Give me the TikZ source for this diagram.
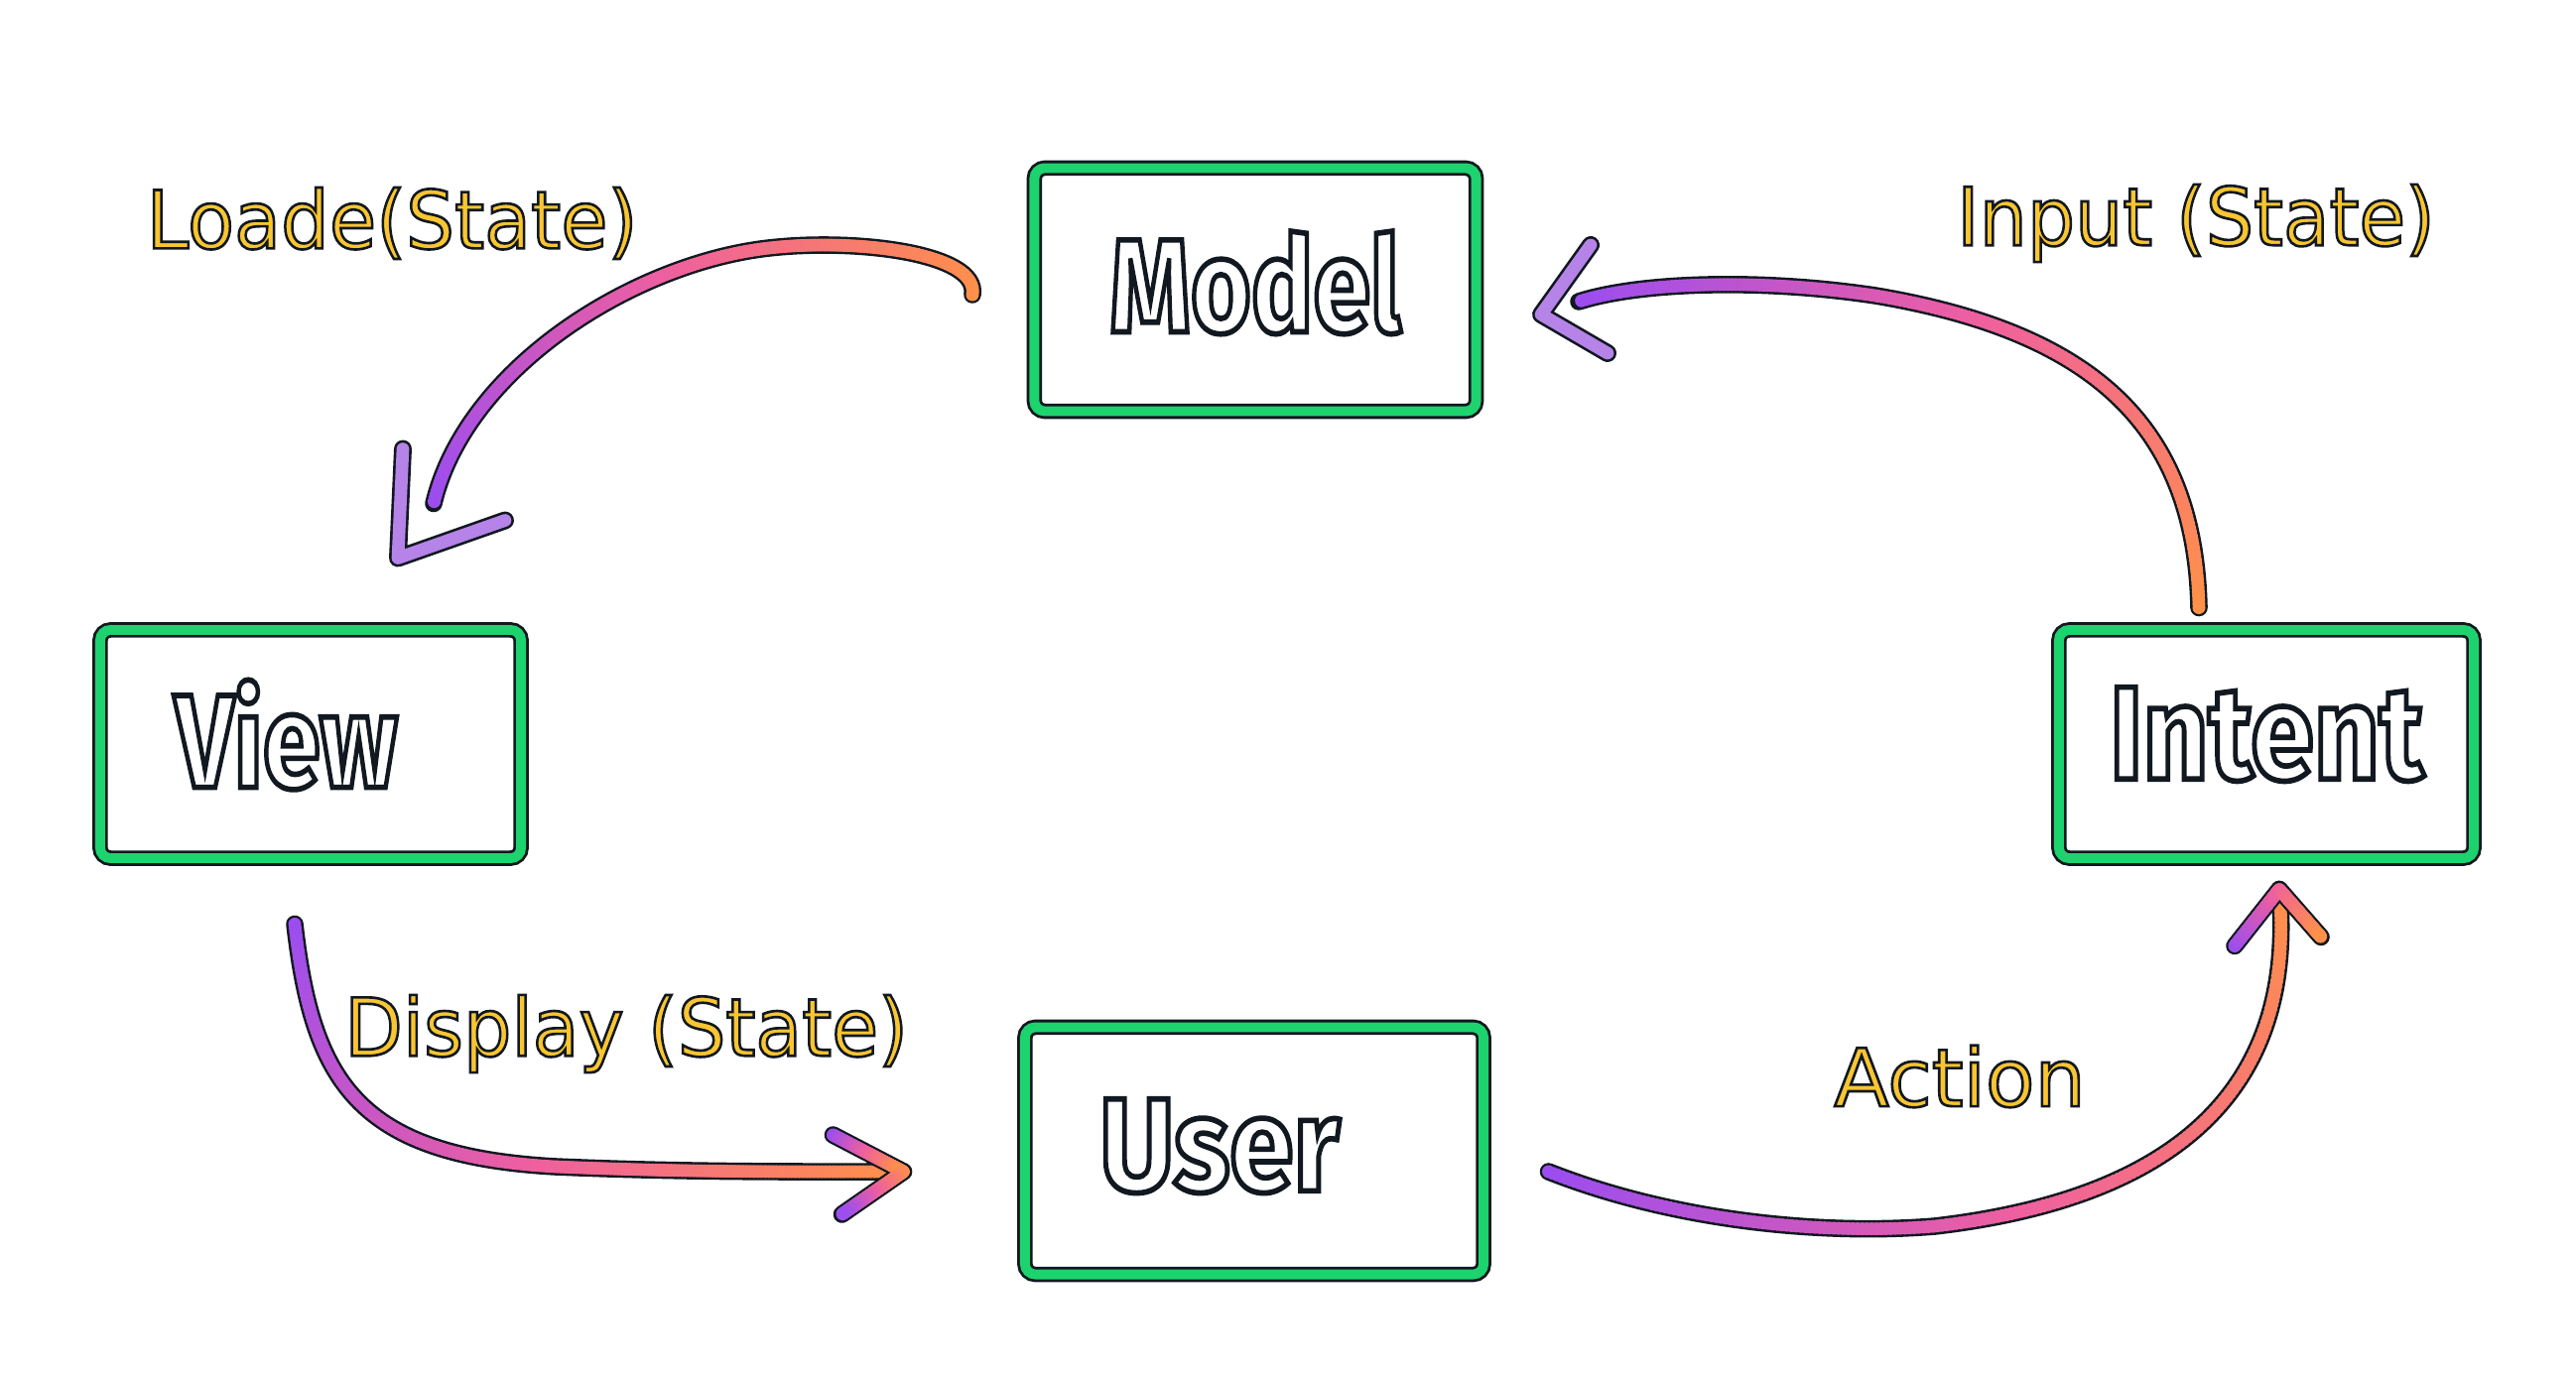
\documentclass[tikz,border=0pt]{standalone}
\usepackage{fontspec}
\usepackage{graphicx}
\usetikzlibrary{decorations.markings}

\setmainfont{DejaVu Sans}
\newfontfamily\boxfont{Fira Sans}

\definecolor{flowpurple}{RGB}{155,77,240}
\definecolor{flowpink}{RGB}{238,95,160}
\definecolor{floworange}{RGB}{255,145,72}
\definecolor{headlilac}{RGB}{182,131,232}
\definecolor{boxgreen}{RGB}{29,211,110}
\definecolor{labelgold}{RGB}{249,197,49}
\definecolor{outline}{RGB}{17,24,32}

% outlined text: fill in the current colour, stroke in dark
\newcommand\outlined[2]{\special{pdf:literal direct 2 Tr #1 w 0.067 0.094 0.125 RG}#2\special{pdf:literal direct 0 Tr}}
\newcommand\boxtext[4]{\raisebox{#2}{\scalebox{#3}[1]{\outlined{1.6}{\bfseries #4}}}\kern#1}
\newcommand\flowtext[2]{\scalebox{#1}[1]{\outlined{0.75}{#2}}}

% one dot of a trail: 0 purple->orange, 1 orange->purple, 2 purple->orange->purple
\newcommand\traildot[1]{%
  \pgfmathtruncatemacro\tp{(\pgfkeysvalueof{/pgf/decoration/mark info/sequence number}-1)/2}%
  \ifcase#1\or\pgfmathtruncatemacro\tp{100-\tp}\or\pgfmathtruncatemacro\tp{100-abs(2*\tp-100)}\fi
  \ifnum\tp<50 \pgfmathtruncatemacro\tq{2*\tp}\colorlet{dotc}{flowpink!\tq!flowpurple}%
  \else \pgfmathtruncatemacro\tq{2*\tp-100}\colorlet{dotc}{floworange!\tq!flowpink}\fi
  \fill[dotc] (0,0) circle (1.85pt);}

\tikzset{
    trail/.style={
        draw = outline, line width = 5pt, line cap = round, line join = round,
        postaction = {decorate, decoration = {markings,
            mark = between positions 0 and 1 step 0.005 with {\traildot{#1}}}}
    }
}

\begin{document}
\begin{tikzpicture}[
            x = 0.01cm,
            y = -0.01cm
        ]
        \tikzstyle{box}=[
            draw = outline,
            line width = 0.8pt,
            double = boxgreen,
            double distance = 2.8pt,
            fill = white,
            rounded corners = 3pt,
            inner sep = 0pt,
            text = white,
            font = \boxfont\fontsize{38}{40}\selectfont
        ]
        \tikzstyle{head}=[
            draw = outline,
            line width = 0.75pt,
            double = headlilac,
            double distance = 3.6pt,
            line cap = round,
            line join = round
        ]
        \tikzstyle{lbl}=[
            text = labelgold,
            inner sep = 0pt,
            font = \fontsize{23}{26}\selectfont
        ]
        \fill[white] (0,0) rectangle (2596,1388);
        \useasboundingbox (0,0) rectangle (2596,1388);

        \node[box, minimum width=4.45cm, minimum height=2.45cm] (model) at (1265,292) {\boxtext{0pt}{4.7pt}{0.78}{Model}};
        \node[box, minimum width=4.24cm, minimum height=2.30cm] (view) at (313,750) {\boxtext{14pt}{6pt}{0.78}{View}};
        \node[box, minimum width=4.62cm, minimum height=2.49cm] (user) at (1264,1160) {\boxtext{20pt}{3.4pt}{0.87}{User}};
        \node[box, minimum width=4.18cm, minimum height=2.30cm] (intent) at (2284,750) {\boxtext{0pt}{6.3pt}{0.86}{Intent}};

        \node[lbl] (loadlbl) at (395,225) {\flowtext{0.95}{Loade(State)}};
        \node[lbl] (inputlbl) at (2213,225) {\flowtext{0.94}{Input (State)}};
        \node[lbl] (displbl) at (631,1042) {\flowtext{0.945}{Display (State)}};
        \node[lbl] (actlbl) at (1975,1085) {\flowtext{1}{Action}};

        % Model -> View
        \coordinate (loadtip) at ([shift={(88,-71)}]view.north);
        \draw[trail=1] ([shift={(-61,5)}]model.west)
            .. controls (987,255) and (862,240) .. (775,250)
            .. controls (640,265) and (470,370) .. ([shift={(124,-126)}]view.north);
        \draw[head] ([shift={(93,-181)}]view.north) -- (loadtip) -- ([shift={(196,-109)}]view.north);

        % View -> User
        \coordinate (disptip) at ([shift={(-121,21)}]user.west);
        \draw[trail=0] ([shift={(-16,65)}]view.south)
            .. controls (315,1090) and (360,1165) .. (560,1176)
            .. controls (700,1182) and (820,1181) .. (disptip);
        \draw[trail=2] ([shift={(-192,-16)}]user.west) -- (disptip) -- ([shift={(-183,64)}]user.west);

        % User -> Intent
        \coordinate (acttip) at ([shift={(13,30)}]intent.south);
        \draw[trail=0] ([shift={(64,21)}]user.east)
            .. controls (1690,1232) and (1840,1245) .. (1950,1236)
            .. controls (2190,1208) and (2315,1100) .. (acttip);
        \draw[trail=0] ([shift={(-32,87)}]intent.south) -- (acttip) -- ([shift={(55,78)}]intent.south);

        % Intent -> Model
        \coordinate (inputtip) at ([shift={(64,25)}]model.east);
        \draw[trail=1] ([shift={(-68,-21)}]intent.north)
            .. controls (2212,430) and (2110,335) .. (1890,298)
            .. controls (1770,280) and (1650,285) .. ([shift={(102,12)}]model.east);
        \draw[head] ([shift={(114,-45)}]model.east) -- (inputtip) -- ([shift={(131,64)}]model.east);
\end{tikzpicture}
\end{document}
